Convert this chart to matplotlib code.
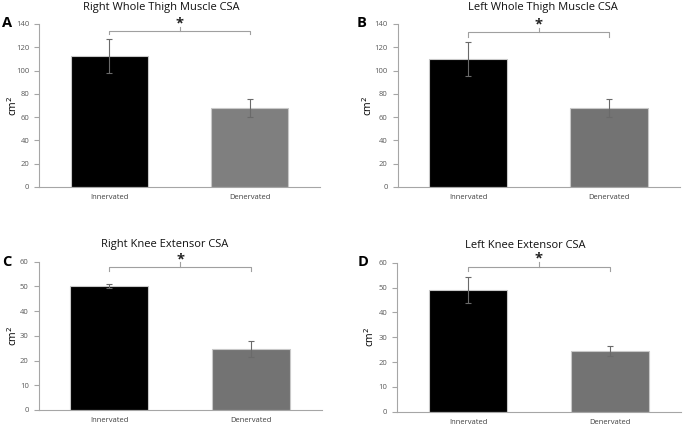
import matplotlib.pyplot as plt

plt.rcParams['font.family'] = ['Open Sans', 'DejaVu Sans']

categories = ["Innervated", "Denervated"]

titles = ["Right Whole Thigh Muscle CSA", "Left Whole Thigh Muscle CSA",
          "Right Knee Extensor CSA", "Left Knee Extensor CSA"]
letters = ["A", "B", "C", "D"]

right_thigh_mean = [112.5, 68.0]
right_thigh_err = [14.5, 7.8]
left_thigh_mean = [110.0, 68.0]
left_thigh_err = [14.5, 7.8]
right_knee_mean = [50.2, 24.8]
right_knee_err = [0.7, 3.2]
left_knee_mean = [49.0, 24.5]
left_knee_err = [5.4, 2.0]

means = [right_thigh_mean, left_thigh_mean, right_knee_mean, left_knee_mean]
errs = [right_thigh_err, left_thigh_err, right_knee_err, left_knee_err]
ymax = [140, 140, 60, 60]
ystep = [20, 20, 10, 10]

# bracket: (level, drop, top, star centre) in data units
brackets = [(134, 131, 137, 144), (133, 129, 136.6, 143),
            (58, 56.2, 60, 62.7), (58.4, 56.7, 60.2, 63.4)]

W, H = 685, 425
# axes boxes in pixels: left, right, top, bottom
boxes = [(39, 320, 24, 187), (397.5, 679.5, 24, 187),
         (38.5, 322, 261.7, 410), (397, 681, 262.7, 411.7)]
title_pos = [(161, 7.5), (543, 7.5), (165, 245), (525, 246)]
letter_pos = [(2, 23), (357, 23), (2, 262), (358, 262)]
ylabel_x = [20, 375, 20, 376.5]
gray_bars = ["#7f7f7f", "#737373", "#737373", "#737373"]

fig = plt.figure(figsize=(W / 100, H / 100), dpi=100)

for i in range(4):
    l, r, t, b = boxes[i]
    ax = fig.add_axes([l / W, (H - b) / H, (r - l) / W, (b - t) / H])
    x = range(len(categories))
    ax.bar(x, means[i], width=0.55, color=["black", gray_bars[i]],
           edgecolor="#c8c8c8", linewidth=0.8, zorder=2)
    ax.errorbar(x, means[i], yerr=errs[i], fmt="none", ecolor="#6a6a6a",
                elinewidth=0.8, capsize=2.5, capthick=0.8, zorder=3)
    ax.set_xlim(-0.5, 1.5)
    ax.set_ylim(0, ymax[i])
    ax.set_yticks(range(0, ymax[i] + 1, ystep[i]))
    ax.set_xticks(list(x))
    ax.set_xticklabels(categories)
    for s in ["top", "right"]:
        ax.spines[s].set_visible(False)
    for s in ["left", "bottom"]:
        ax.spines[s].set_color("#a6a6a6")
        ax.spines[s].set_linewidth(0.8)
    ax.tick_params(axis="y", length=3.5, width=0.8, color="#a6a6a6",
                   labelsize=5.5, labelcolor="#595959", pad=3.5)
    ax.tick_params(axis="x", length=0, labelsize=5.5, labelcolor="#404040", pad=5)
    ax.set_ylabel("cm$^2$", fontsize=7.5)
    ax.yaxis.set_label_coords((ylabel_x[i] - l) / (r - l), 0.5)

    lev, drop, top, star = brackets[i]
    ax.plot([0, 0, 1, 1], [drop, lev, lev, drop], color="#a0a0a0", lw=0.8,
            clip_on=False)
    ax.plot([0.5, 0.5], [lev, top], color="#a0a0a0", lw=0.8, clip_on=False)
    ax.annotate("*", xy=(0.5, star), xytext=(0, -6), textcoords="offset points",
                ha="center", va="baseline", fontsize=10.5, fontweight="bold",
                color="#222222", annotation_clip=False)

    fig.text(title_pos[i][0] / W, 1 - title_pos[i][1] / H, titles[i],
             ha="center", va="center", fontsize=8, color="#111111")
    fig.text(letter_pos[i][0] / W, 1 - letter_pos[i][1] / H, letters[i],
             ha="left", va="center", fontsize=10.5, fontweight="bold")

fig.savefig("out.png", dpi=100)
